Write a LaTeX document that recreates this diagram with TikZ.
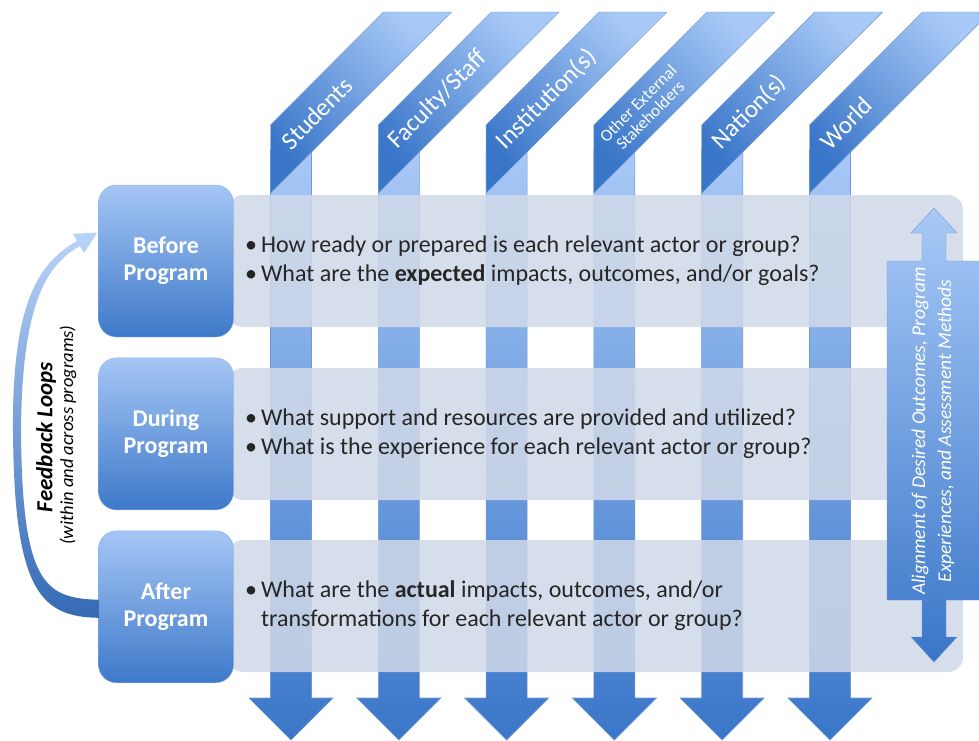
\documentclass[tikz,border=0pt]{standalone}
\usepackage{fontspec}
\setmainfont{Carlito}
\usepackage{tikz}
\usetikzlibrary{positioning,calc}

\definecolor{colLight}{RGB}{168,201,247}
\definecolor{colDark}{RGB}{58,118,200}
\definecolor{colEdge}{RGB}{112,152,212}
\definecolor{bandGrey}{RGB}{209,217,232}
\definecolor{textGrey}{RGB}{38,38,38}
\definecolor{boxTop}{RGB}{165,198,245}
\definecolor{boxBottom}{RGB}{62,121,201}
\definecolor{boxEdge}{RGB}{140,178,232}

\begin{document}
\begin{tikzpicture}[x=1pt,y=-1pt,
                column/.style={top color=colLight,bottom color=colDark,draw=colEdge,line width=.6pt},
                banner/.style={top color=colLight,bottom color=colDark,shading angle=-45,draw=colEdge,line width=.4pt},
                group label/.style={rotate=45,anchor=west,text=white,align=center,inner sep=2pt},
                band/.style={fill=bandGrey,fill opacity=.86,rounded corners=15pt},
                phase node/.style={rounded corners=18pt,minimum width=135pt,minimum height=152pt,top color=boxTop,bottom color=boxBottom,
                                   draw=boxEdge,text=white,align=center,font=\fontsize{24}{27}\selectfont\bfseries},
                question/.style={anchor=west,inner sep=0pt,text=textGrey,font=\fontsize{24}{29.5}\selectfont},
                align arrow/.style={top color=colLight,bottom color=colDark,draw=colEdge,line width=.4pt},
                feedback/.style={top color=colLight!80!white,bottom color=colDark!90!black}]
  \useasboundingbox (0,0) rectangle (979,740);

  % stakeholder columns
  \foreach \i/\lbl/\fs in {0/Students/25,1/{Faculty/Staff}/25,2/Institution(s)/25,
                           3/{Other External\\Stakeholders}/17,4/Nation(s)/25,5/World/25} {
    \pgfmathsetmacro\xc{291+107.8*\i}
    \shade[column] ({\xc-20.5},150) -- ({\xc-20.5},698) -- ({\xc-42},698) -- (\xc,740)
                   -- ({\xc+42},698) -- ({\xc+20.5},698) -- ({\xc+20.5},150) -- cycle;
    \shade[banner] ({\xc-20.5},193) -- ({\xc-20.5},125) -- ({\xc+92.5},12) -- ({\xc+160.5},12)
                   -- ({\xc+20.5},152) -- cycle;
    \node[group label,font=\fontsize{\fs}{\fs}\selectfont] at ({\xc-7.5},146.5) {\lbl};
  }

  \fill[band] (228,195) rectangle (963,327);
  \fill[band] (228,368) rectangle (963,500);
  \fill[band] (228,540) rectangle (963,672);

  \node[phase node] (1) at (166,261) {Before\\Program};
  \node[phase node] (2) [below=20.5pt of 1] {During\\Program};
  \node[phase node] (3) [below=20.5pt of 2] {After\\Program};

  \node[question] (q1) at (245,261) {\begin{tabular}{@{}l@{\hspace{4pt}}l@{}}
      \textbullet & How ready or prepared is each relevant actor or group?\\
      \textbullet & What are the \textbf{expected} impacts, outcomes, and/or goals?\end{tabular}};
  \node[question] (q2) at (245,434) {\begin{tabular}{@{}l@{\hspace{4pt}}l@{}}
      \textbullet & What support and resources are provided and utilized?\\
      \textbullet & What is the experience for each relevant actor or group?\end{tabular}};
  \node[question] (q3) at (245,606) {\begin{tabular}{@{}l@{\hspace{4pt}}l@{}}
      \textbullet & What are the \textbf{actual} impacts, outcomes, and/or\\
                  & transformations for each relevant actor or group?\end{tabular}};

  % alignment arrow
  \shade[align arrow] (934,208) -- (957,233) -- (946,233) -- (946,261) -- (985,261) -- (985,600)
        -- (946,600) -- (946,637) -- (957,637) -- (934,662) -- (911,637) -- (922,637) -- (922,600)
        -- (887,600) -- (887,261) -- (922,261) -- (922,233) -- (911,233) -- cycle;
  \node[rotate=90,text=white,align=center,font=\fontsize{19.5}{26}\selectfont\itshape] (align) at (933,431)
        {Alignment of Desired Outcomes, Program\\Experiences, and Assessment Methods};

  % feedback loop
  \shade[feedback] ($(3.west)+(0.5,11)$) .. controls (40,617) and (14,590) .. (13,430)
        .. controls (12,300) and (40,262) .. (77,241) -- (73,234) -- ($(1.west)+(-1,-28.5)$)
        -- (84,253) -- (80,246) .. controls (48,264) and (22,300) .. (21,430)
        .. controls (22,585) and (45,598) .. ($(3.west)+(0.5,-7)$) -- cycle;
  \node[rotate=90,font=\fontsize{23}{25}\selectfont\bfseries\itshape] (fb) at (46,437) {Feedback Loops};
  \node[rotate=90,font=\fontsize{18.5}{20}\selectfont\itshape] (fbsub) at (68,435) {(within and across programs)};
\end{tikzpicture}
\end{document}
